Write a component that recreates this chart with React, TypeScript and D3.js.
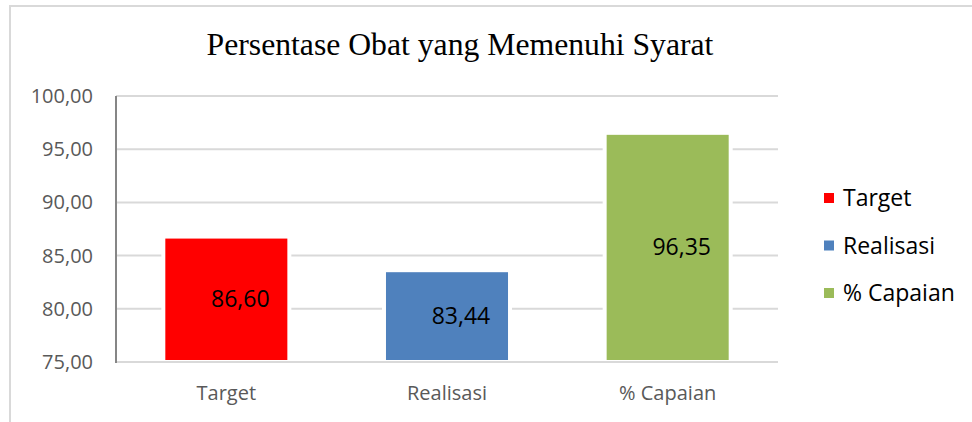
import React from "react";
import * as d3 from "d3";

const categories = ["Target", "Realisasi", "% Capaian"];
const values = [86.6, 83.44, 96.35];
const valueLabels = ["86,60", "83,44", "96,35"];
const colors = ["#ff0000", "#4f81bd", "#9bbb59"];
const yTicks = [75, 80, 85, 90, 95, 100];
const title = "Persentase Obat yang Memenuhi Syarat";

const W = 972;
const H = 422;
const left = 116;
const right = 778;
const top = 96;
const bottom = 362;
const labelFont = "'Open Sans', 'Noto Sans', sans-serif";

export default function App() {
  const x = d3
    .scaleBand<string>()
    .domain(categories)
    .range([left, right])
    .paddingInner(0.447)
    .paddingOuter(0.2235);
  const y = d3.scaleLinear().domain([75, 100]).range([bottom, top]);
  const fmt = (v: number) => d3.format(".2f")(v).replace(".", ",");

  return (
    <svg
      width={W}
      height={H}
      style={{ position: "absolute", left: 0, top: 0, background: "#fff" }}
    >
      <rect x={0} y={0} width={W} height={H} fill="#fff" />
      {/* chart border */}
      <path d={`M10,${H} V6 H${W}`} fill="none" stroke="#d9d9d9" strokeWidth={2} />
      <text
        x={460}
        y={55}
        textAnchor="middle"
        fontFamily="'Liberation Serif', 'Times New Roman', serif"
        fontSize={31.7}
        fill="#000"
      >
        {title}
      </text>
      {/* gridlines */}
      {yTicks.slice(1).map((t) => (
        <line key={t} x1={left} x2={right} y1={y(t)} y2={y(t)} stroke="#d9d9d9" strokeWidth={2} />
      ))}
      {/* y tick labels */}
      {yTicks.map((t) => (
        <text
          key={t}
          x={93}
          y={y(t)}
          dy="0.35em"
          textAnchor="end"
          fontFamily={labelFont}
          fontSize={20}
          fill="#595959"
        >
          {fmt(t)}
        </text>
      ))}
      {/* bars */}
      {categories.map((c, i) => {
        const bx = x(c)!;
        const bw = x.bandwidth();
        const by = y(values[i]);
        const bh = y(75) - 2 - by;
        return (
          <g key={c}>
            <rect x={bx - 4} y={by} width={bw + 8} height={bh} fill="#fff" />
            <rect x={bx} y={by} width={bw} height={bh} fill={colors[i]} />
            <text
              x={bx + bw / 2 + 14}
              y={by + bh / 2}
              dy="0.35em"
              textAnchor="middle"
              fontFamily={labelFont}
              fontSize={23}
              fill="#000"
            >
              {valueLabels[i]}
            </text>
            <text
              x={bx + bw / 2}
              y={400}
              textAnchor="middle"
              fontFamily={labelFont}
              fontSize={20}
              fill="#595959"
            >
              {c}
            </text>
          </g>
        );
      })}
      {/* axes */}
      <line x1={left} x2={right} y1={bottom} y2={bottom} stroke="#d9d9d9" strokeWidth={2} />
      <line x1={left} x2={left} y1={top} y2={bottom + 1} stroke="#868686" strokeWidth={2} />
      {/* legend */}
      {categories.map((c, i) => {
        const cy = 198 + i * 47.5;
        return (
          <g key={"lg" + c}>
            <rect x={824} y={cy - 5} width={10} height={10} fill={colors[i]} />
            <text
              x={843}
              y={cy}
              dy="0.35em"
              fontFamily={labelFont}
              fontSize={23}
              fill="#000"
            >
              {c}
            </text>
          </g>
        );
      })}
    </svg>
  );
}
